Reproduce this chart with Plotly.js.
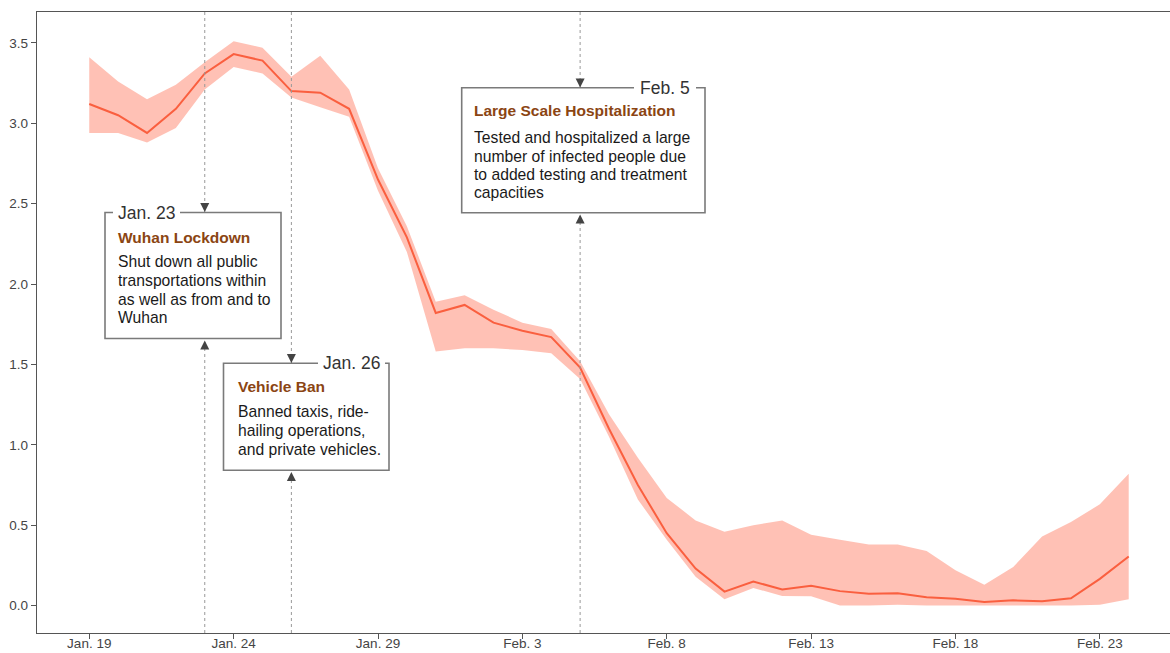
<!DOCTYPE html>
<html>
<head>
<meta charset="utf-8">
<script src="https://cdn.plot.ly/plotly-3.0.1.min.js"></script>
<style>
  html, body { margin: 0; padding: 0; background: #fff; }
  #chart { width: 1170px; height: 653px; }
</style>
</head>
<body>
<div id="chart"></div>
<script>
// ---------------- data ----------------
const dates = [
  '2020-01-19','2020-01-20','2020-01-21','2020-01-22','2020-01-23','2020-01-24','2020-01-25',
  '2020-01-26','2020-01-27','2020-01-28','2020-01-29','2020-01-30','2020-01-31','2020-02-01',
  '2020-02-02','2020-02-03','2020-02-04','2020-02-05','2020-02-06','2020-02-07','2020-02-08',
  '2020-02-09','2020-02-10','2020-02-11','2020-02-12','2020-02-13','2020-02-14','2020-02-15',
  '2020-02-16','2020-02-17','2020-02-18','2020-02-19','2020-02-20','2020-02-21','2020-02-22',
  '2020-02-23','2020-02-24'
];
const meanValues = [
  3.12, 3.05, 2.94, 3.09, 3.31, 3.43, 3.39, 3.20, 3.19, 3.09,
  2.65, 2.29, 1.82, 1.87, 1.76, 1.71, 1.67, 1.48, 1.10, 0.75,
  0.45, 0.23, 0.087, 0.15, 0.10, 0.124, 0.09, 0.073, 0.077, 0.052,
  0.042, 0.023, 0.033, 0.027, 0.046, 0.166, 0.305
];
const upperValues = [
  3.41, 3.26, 3.15, 3.24, 3.38, 3.51, 3.47, 3.29, 3.42, 3.21,
  2.72, 2.36, 1.89, 1.93, 1.84, 1.76, 1.72, 1.52, 1.19, 0.92,
  0.67, 0.53, 0.46, 0.50, 0.53, 0.44, 0.41, 0.38, 0.38, 0.34,
  0.22, 0.13, 0.24, 0.43, 0.52, 0.63, 0.82
];
const lowerValues = [
  2.94, 2.94, 2.88, 2.97, 3.21, 3.35, 3.31, 3.16, 3.10, 3.04,
  2.58, 2.20, 1.58, 1.60, 1.60, 1.59, 1.57, 1.41, 1.05, 0.66,
  0.41, 0.18, 0.04, 0.11, 0.06, 0.058, 0.00, 0.00, 0.005, 0.00,
  0.00, 0.00, 0.00, 0.00, 0.00, 0.005, 0.04
];
const tickDates = ['2020-01-19','2020-01-24','2020-01-29','2020-02-03','2020-02-08','2020-02-13','2020-02-18','2020-02-23'];
const tickLabels = ['Jan. 19','Jan. 24','Jan. 29','Feb. 3','Feb. 8','Feb. 13','Feb. 18','Feb. 23'];
const yTicks = [0, 0.5, 1.0, 1.5, 2.0, 2.5, 3.0, 3.5];

const events = [
  { date: '2020-01-23', label: 'Jan. 23', title: 'Wuhan Lockdown',
    body: ['Shut down all public', 'transportations within', 'as well as from and to', 'Wuhan'] },
  { date: '2020-01-26', label: 'Jan. 26', title: 'Vehicle Ban',
    body: ['Banned taxis, ride-', 'hailing operations,', 'and private vehicles.'] },
  { date: '2020-02-05', label: 'Feb. 5', title: 'Large Scale Hospitalization',
    body: ['Tested and hospitalized a large', 'number of infected people due', 'to added testing and treatment', 'capacities'] }
];

// ---------------- layout geometry (pixels) ----------------
const W = 1170, H = 653;
const M = { l: 37, r: 0, t: 12, b: 20 };
const PW = W - M.l - M.r, PH = H - M.t - M.b;
const PX = px => (px - M.l) / PW;
const PY = py => (H - M.b - py) / PH;

// box geometry for each event (pixel positions)
const boxes = [
  { x0: 105, x1: 281, y0: 212.5, y1: 338.5, labelSide: 'left', labelX: 113, pad: 5,
    textX: 118, titleY: 237.5, bodyY: [261.7, 280.3, 299, 317.5], downTip: 212, upTip: 340.5 },
  { x0: 223.5, x1: 389, y0: 363.3, y1: 470.3, labelSide: 'right', labelX: 384.5, pad: 5,
    textX: 237.5, titleY: 386.7, bodyY: [411.7, 430.3, 449], downTip: 363, upTip: 472 },
  { x0: 461.7, x1: 705, y0: 87.7, y1: 212.7, labelSide: 'right', labelX: 696, pad: 6,
    textX: 474.3, titleY: 110, bodyY: [137.3, 156, 174.5, 192.7], downTip: 87.5, upTip: 214.5 }
];

// axis ranges
const DAY = 864e5;
const base = Date.UTC(2020, 0, 19);
const fmt = ms => new Date(ms).toISOString().slice(0, 19).replace('T', ' ');
const xRange = [fmt(base - 1.81 * DAY), fmt(base + 37.43 * DAY)];
const yRange = [-0.1704, 3.692];

// ---------------- traces ----------------
const FONT = 'Arial, "Liberation Sans", sans-serif';
const traces = [
  { x: dates, y: lowerValues, type: 'scatter', mode: 'lines',
    line: { width: 0, color: 'rgba(0,0,0,0)' }, hoverinfo: 'skip', showlegend: false },
  { x: dates, y: upperValues, type: 'scatter', mode: 'lines', fill: 'tonexty',
    fillcolor: 'rgba(255,99,71,0.4)', line: { width: 0, color: 'rgba(0,0,0,0)' },
    hoverinfo: 'skip', showlegend: false },
  { x: dates, y: meanValues, type: 'scatter', mode: 'lines',
    line: { width: 2, color: '#fa5f3f' }, hoverinfo: 'skip', showlegend: false }
];

// ---------------- shapes & annotations ----------------
const shapes = [];
const annotations = [];

events.forEach(ev => {
  shapes.push({ type: 'line', xref: 'x', yref: 'paper', x0: ev.date, x1: ev.date, y0: 0, y1: 1,
    line: { color: '#999', width: 1, dash: 'dot' }, layer: 'above' });
});

events.forEach((ev, i) => {
  const b = boxes[i];
  shapes.push({ type: 'rect', xref: 'paper', yref: 'paper',
    x0: PX(b.x0), x1: PX(b.x1), y0: PY(b.y1), y1: PY(b.y0),
    fillcolor: '#ffffff', line: { color: '#7a7a7a', width: 1.6 }, layer: 'above' });

  // date label sitting on the top border
  annotations.push({ xref: 'paper', yref: 'paper', x: PX(b.labelX), y: PY(b.y0),
    xanchor: b.labelSide, yanchor: 'middle', text: ev.label, showarrow: false,
    font: { family: FONT, size: 17.5, color: '#333' }, bgcolor: '#ffffff',
    borderpad: b.pad, borderwidth: 0 });

  // title
  annotations.push({ xref: 'paper', yref: 'paper', x: PX(b.textX), y: PY(b.titleY),
    xanchor: 'left', yanchor: 'middle', text: '<b>' + ev.title + '</b>', showarrow: false,
    font: { family: FONT, size: 15.5, color: '#8b4513' }, borderpad: 0, borderwidth: 0 });

  // body lines
  ev.body.forEach((line, k) => {
    annotations.push({ xref: 'paper', yref: 'paper', x: PX(b.textX), y: PY(b.bodyY[k]),
      xanchor: 'left', yanchor: 'middle', text: line, showarrow: false,
      font: { family: FONT, size: 15.7, color: '#1a1a1a' }, borderpad: 0, borderwidth: 0 });
  });

  // arrows
  annotations.push({ xref: 'x', yref: 'paper', x: ev.date, y: PY(b.downTip), ax: 0, ay: -10,
    text: '', showarrow: true, arrowhead: 2, arrowsize: 1.8, arrowwidth: 1, arrowcolor: '#444', standoff: 0 });
  annotations.push({ xref: 'x', yref: 'paper', x: ev.date, y: PY(b.upTip), ax: 0, ay: 10,
    text: '', showarrow: true, arrowhead: 2, arrowsize: 1.8, arrowwidth: 1, arrowcolor: '#444', standoff: 0 });
});

const layout = {
  width: W, height: H,
  margin: M,
  paper_bgcolor: '#ffffff', plot_bgcolor: '#ffffff',
  showlegend: false,
  font: { family: FONT, color: '#444' },
  xaxis: {
    type: 'date', range: xRange, tickvals: tickDates, ticktext: tickLabels,
    showgrid: false, zeroline: false, showline: true, linecolor: '#555', linewidth: 1.3, mirror: true,
    ticks: 'outside', ticklen: 5, tickwidth: 1, tickcolor: '#555', ticklabelstandoff: -8,
    tickfont: { family: FONT, size: 13.5, color: '#444' }, fixedrange: true
  },
  yaxis: {
    range: yRange, tickvals: yTicks, tickformat: '.1f',
    showgrid: false, zeroline: false, showline: true, linecolor: '#555', linewidth: 1.3,
    ticks: 'outside', ticklen: 5, tickwidth: 1, tickcolor: '#555',
    tickfont: { family: FONT, size: 13.5, color: '#444' }, fixedrange: true
  },
  shapes: shapes,
  annotations: annotations
};

Plotly.newPlot('chart', traces, layout, { displayModeBar: false, staticPlot: true });
</script>
</body>
</html>
